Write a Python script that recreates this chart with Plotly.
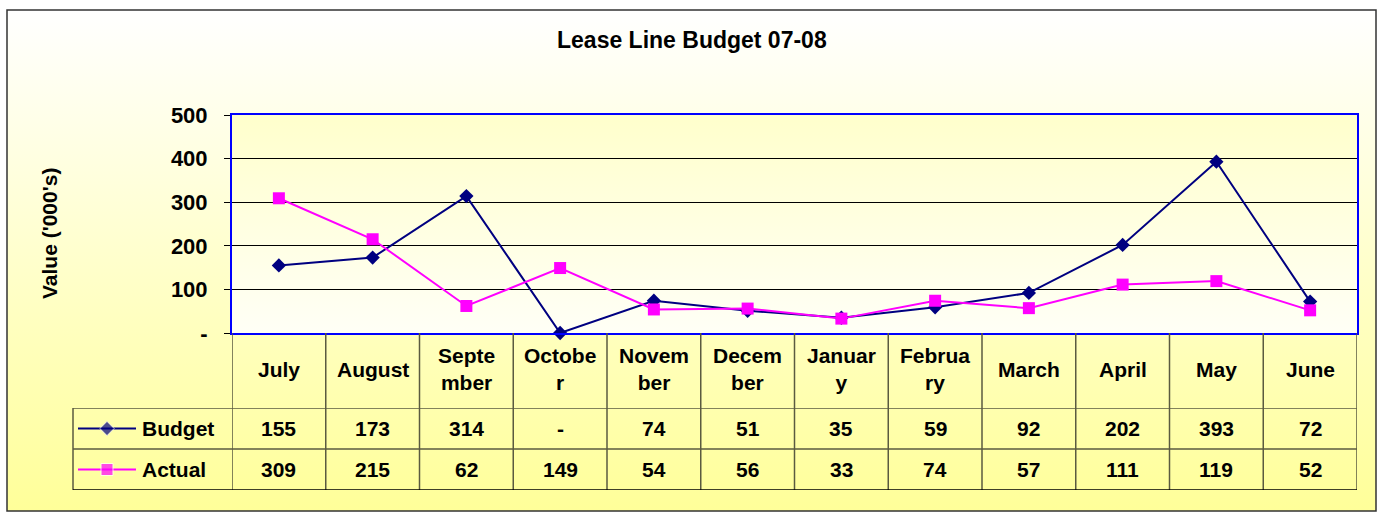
import base64
import plotly.graph_objects as go

W, H = 1383, 513

# ---------------- data ----------------
months = ["July", "August", "September", "October", "November", "December",
          "January", "February", "March", "April", "May", "June"]
month_labels = ["July", "August", "Septe<br>mber", "Octobe<br>r", "Novem<br>ber",
                "Decem<br>ber", "Januar<br>y", "Februa<br>ry", "March", "April",
                "May", "June"]
budget = [155, 173, 314, 0, 74, 51, 35, 59, 92, 202, 393, 72]
actual = [309, 215, 62, 149, 54, 56, 33, 74, 57, 111, 119, 52]
series_names = ["Budget", "Actual"]
y_tickvals = [0, 100, 200, 300, 400, 500]
y_ticktext = ["-", "100", "200", "300", "400", "500"]
title_text = "Lease Line Budget 07-08"
y_title = "Value ('000's)"

# ---------------- style ----------------
FONT = "Arial, 'Liberation Sans', sans-serif"
BUDGET_C = "#000080"
ACTUAL_C = "#FF00FF"
FS = 21


def px_x(p):
    return p / W


def px_y(p):
    return 1 - p / H


def fmt(v):
    return "-" if v == 0 else str(v)


def grad_svg(top, bottom):
    svg = ("<svg xmlns='http://www.w3.org/2000/svg' width='100' height='100' "
           "preserveAspectRatio='none'><defs><linearGradient id='g' x1='0' y1='0' "
           "x2='0' y2='1'><stop offset='0' stop-color='%s'/><stop offset='1' "
           "stop-color='%s'/></linearGradient></defs><rect width='100' height='100' "
           "fill='url(#g)'/></svg>") % (top, bottom)
    return "data:image/svg+xml;base64," + base64.b64encode(svg.encode()).decode()


fig = go.Figure()

fig.add_trace(go.Scatter(x=months, y=budget, name="Budget", mode="lines+markers",
                         line=dict(color=BUDGET_C, width=2),
                         marker=dict(symbol="diamond", size=11, color=BUDGET_C),
                         cliponaxis=False, showlegend=False))
fig.add_trace(go.Scatter(x=months, y=actual, name="Actual", mode="lines+markers",
                         line=dict(color=ACTUAL_C, width=2),
                         marker=dict(symbol="square", size=12, color=ACTUAL_C),
                         cliponaxis=False, showlegend=False))

# legend keys inside the data table (own hidden axes)
fig.add_trace(go.Scatter(x=[0, 1, 2], y=["Budget"] * 3, mode="lines+markers",
                         line=dict(color=BUDGET_C, width=2),
                         marker=dict(symbol="diamond", size=[0, 11, 0], color=BUDGET_C),
                         xaxis="x2", yaxis="y2", showlegend=False, hoverinfo="skip"))
fig.add_trace(go.Scatter(x=[0, 1, 2], y=["Actual"] * 3, mode="lines+markers",
                         line=dict(color=ACTUAL_C, width=2),
                         marker=dict(symbol="square", size=[0, 12, 0], color=ACTUAL_C),
                         xaxis="x2", yaxis="y2", showlegend=False, hoverinfo="skip"))

annotations = []
# title
annotations.append(dict(text=title_text, xref="paper", yref="paper", x=0.5, y=px_y(40),
                        xanchor="center", yanchor="middle", showarrow=False,
                        font=dict(family=FONT, size=23, color="black", weight="bold")))
# y axis title
annotations.append(dict(text=y_title, xref="paper", yref="paper", x=px_x(49), y=px_y(234),
                        textangle=-90, xanchor="center", yanchor="middle", showarrow=False,
                        font=dict(family=FONT, size=FS, color="black", weight="bold")))
# month header row
for m, lab in zip(months, month_labels):
    annotations.append(dict(text=lab, xref="x", yref="paper", x=m, y=px_y(369),
                            xanchor="center", yanchor="middle", showarrow=False,
                            font=dict(family=FONT, size=FS, color="black", weight="bold")))
# values rows
for name, vals in zip(series_names, [budget, actual]):
    annotations.append(dict(text=name, xref="paper", yref="y2", x=px_x(140), y=name,
                            xanchor="left", yanchor="middle", showarrow=False,
                            font=dict(family=FONT, size=FS, color="black", weight="bold")))
    for m, v in zip(months, vals):
        annotations.append(dict(text=fmt(v), xref="x", yref="y2", x=m, y=name,
                                xanchor="center", yanchor="middle", showarrow=False,
                                font=dict(family=FONT, size=FS, color="black", weight="bold")))

shapes = []
TABLE_LINE = "#5a5a40"
# vertical table lines at category boundaries
for k in range(len(months) + 1):
    shapes.append(dict(type="line", xref="x", yref="paper", x0=k - 0.5, x1=k - 0.5,
                       y0=px_y(333), y1=px_y(490), line=dict(color=TABLE_LINE, width=1.5)))
# left edge of legend column
shapes.append(dict(type="line", xref="paper", yref="y2", x0=px_x(73), x1=px_x(73),
                   y0=-0.5, y1=1.5, line=dict(color=TABLE_LINE, width=1.5)))
# horizontal table lines
for yv, col in [(1.5, TABLE_LINE), (0.5, TABLE_LINE), (-0.5, "#000000")]:
    shapes.append(dict(type="line", xref="paper", yref="y2", x0=px_x(73), x1=px_x(1357),
                       y0=yv, y1=yv, line=dict(color=col, width=1.5)))
# outer chart border
shapes.append(dict(type="rect", xref="paper", yref="paper", x0=px_x(7), x1=px_x(1376),
                   y0=px_y(511), y1=px_y(10), line=dict(color="#333333", width=1.5)))

images = [
    dict(source=grad_svg("#FFFFFF", "#FFFF99"), xref="paper", yref="paper",
         x=px_x(7), y=px_y(10), sizex=px_x(1376) - px_x(7), sizey=px_y(10) - px_y(511),
         xanchor="left", yanchor="top", sizing="stretch", layer="below"),
    dict(source=grad_svg("#FFFFCC", "#FFFFF6"), xref="x domain", yref="y domain",
         x=0, y=1, sizex=1, sizey=1, xanchor="left", yanchor="top",
         sizing="stretch", layer="below"),
]

fig.update_layout(
    width=W, height=H, autosize=False,
    margin=dict(l=0, r=0, t=0, b=0, pad=0, autoexpand=False),
    paper_bgcolor="white",
    plot_bgcolor="rgba(0,0,0,0)",
    font=dict(family=FONT, color="black"),
    xaxis=dict(domain=[px_x(232), px_x(1357)], type="category", categoryarray=months,
               range=[-0.5, len(months) - 0.5], showticklabels=False, ticks="",
               showgrid=False, zeroline=False, showline=True, linecolor="#0000FF",
               linewidth=2, mirror=True, fixedrange=True, automargin=False),
    yaxis=dict(domain=[px_y(333), px_y(115)], range=[0, 500], tickvals=y_tickvals,
               ticktext=y_ticktext, ticks="outside", ticklen=6, tickcolor="#000000",
               tickwidth=1, ticklabelstandoff=12,
               tickfont=dict(family=FONT, size=22, color="black", weight="bold"),
               showgrid=True, gridcolor="#000000", gridwidth=1, zeroline=False,
               showline=True, linecolor="#0000FF", linewidth=2, mirror=True,
               fixedrange=True, automargin=False),
    xaxis2=dict(domain=[px_x(78), px_x(136)], range=[0, 2], visible=False,
                anchor="y2", fixedrange=True, automargin=False),
    yaxis2=dict(domain=[px_y(490), px_y(408)], type="category",
                categoryarray=["Actual", "Budget"], range=[-0.5, 1.5], visible=False,
                anchor="x2", fixedrange=True, automargin=False),
    annotations=annotations,
    shapes=shapes,
    images=images,
)

fig.write_html("out.html",
               config={"displayModeBar": False, "responsive": False},
               post_script="document.body.style.margin='0';document.body.style.padding='0';")
